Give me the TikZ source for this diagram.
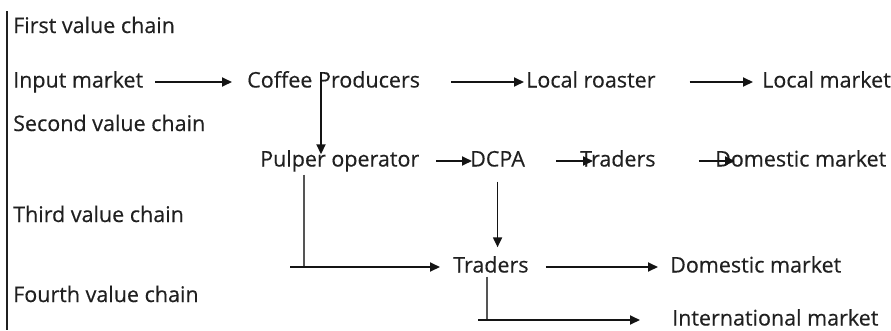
\documentclass[tikz,border=0pt]{standalone}
\usepackage{fontspec}
\setmainfont{Open Sans}[FakeBold=0.4]
\usepackage{tikz}
\usetikzlibrary{arrows.meta}
\usepackage{xcolor}
\definecolor{ColText}{RGB}{32,32,32}
\definecolor{ColArrow}{RGB}{20,20,20}
\definecolor{ColLine}{RGB}{85,85,85}
\tikzstyle{ChainLabel}=[anchor=west,inner sep=0pt,text height=15pt,text depth=4pt,
text=ColText,font=\fontsize{21.5}{24}\selectfont]
\tikzstyle{ActorNode}=[ChainLabel]
\tikzstyle{FlowArrow}=[ColArrow,line width=1.8pt,-{Triangle[length=10pt,width=9pt]}]
\tikzstyle{FlowLine}=[ColLine,line width=1.8pt]

\begin{document}
\begin{tikzpicture}[x=1pt,y=-1pt]
        \useasboundingbox(0,0)rectangle(891,330);
        \draw[ColText,line width=1.4pt](7,11)--(7,330);
        % value chain titles
        \node[ChainLabel](first)at(13,27.5){First value chain};
        \node[ChainLabel](second)at(13,125.5){Second value chain};
        \node[ChainLabel](third)at(13,216.5){Third value chain};
        \node[ChainLabel](fourth)at(13,296.5){Fourth value chain};
        % actors
        \node[ActorNode](input)at(13,82){Input market};
        \node[ActorNode](cp)at(247,82){Coffee Producers};
        \node[ActorNode](lr)at(526,82){Local roaster};
        \node[ActorNode](lm)at(762,82){Local market};
        \node[ActorNode](po)at(260,161){Pulper operator};
        \node[ActorNode](dcpa)at(470,161){DCPA};
        \node[ActorNode](trA)at(580,161){Traders};
        \node[ActorNode](dmA)at(715,161){Domestic market};
        \node[ActorNode](trB)at(453,267){Traders};
        \node[ActorNode](dmB)at(670,267){Domestic market};
        \node[ActorNode](im)at(672,320){International market};
        \coordinate(poCorner)at([xshift=44pt]po.south west|-trB.west);
        \coordinate(trCorner)at([xshift=34pt]trB.south west|-im.west);
        % flows
        \draw[FlowArrow]([xshift=12pt]input.east)--([xshift=-15pt]cp.west);
        \draw[FlowArrow]([xshift=31pt]cp.east)--([xshift=-2pt]lr.west);
        \draw[FlowArrow]([xshift=34pt]lr.east)--([xshift=-9pt]lm.west);
        \draw[FlowArrow]([xshift=74pt]cp.north west)--([xshift=61pt,yshift=-3pt]po.north west);
        \draw[FlowArrow]([xshift=17pt]po.east)--([xshift=2pt]dcpa.west);
        \draw[FlowArrow]([xshift=31pt]dcpa.east)--([xshift=13pt]trA.west);
        \draw[FlowArrow]([xshift=43pt]trA.east)--([xshift=20pt]dmA.west);
        \draw[FlowArrow]([yshift=-11pt]dcpa.south)--([yshift=10pt]dcpa.south|-trB.north);
        \draw[FlowLine]([xshift=44pt,yshift=-4pt]po.south west)--(poCorner);
        \draw[FlowArrow]([xshift=-14pt]poCorner)--([xshift=-13pt]trB.west);
        \draw[FlowArrow]([xshift=17pt]trB.east)--([xshift=-12pt]dmB.west);
        \draw[FlowLine]([xshift=34pt]trB.south west)--(trCorner);
        \draw[FlowArrow]([xshift=-9pt]trCorner)--([xshift=-32pt]im.west);
    \end{tikzpicture}
\end{document}
